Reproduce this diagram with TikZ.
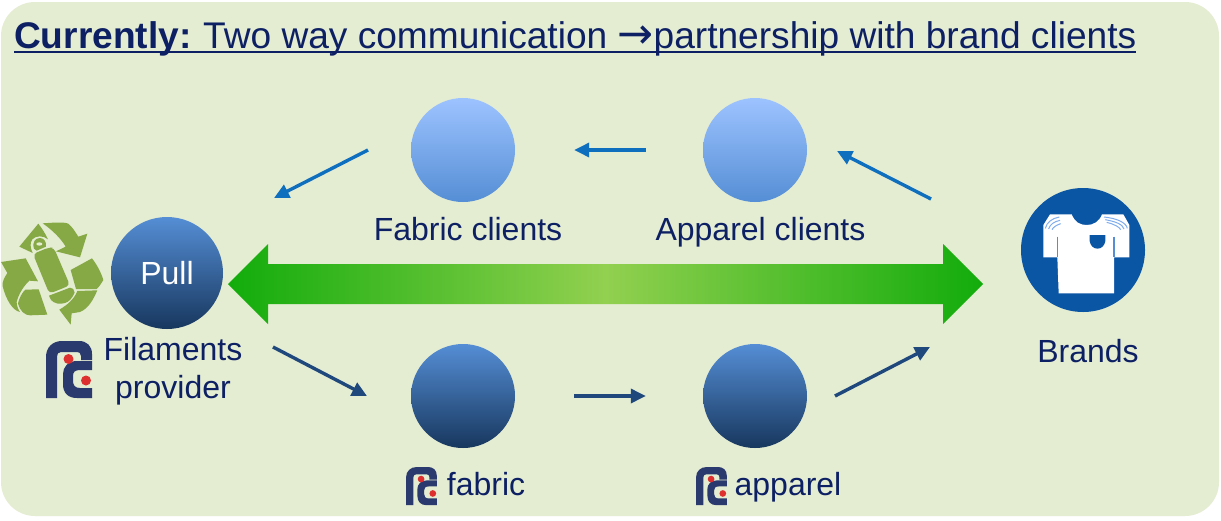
\documentclass[tikz,border=0pt]{standalone}
\usepackage{fontspec}
\setmainfont{Liberation Sans}
\newfontfamily\arrowfont{DejaVu Sans}
\usetikzlibrary{arrows.meta}
\definecolor{panelbg}{HTML}{E4ECD2}
\definecolor{navytxt}{HTML}{0D2063}
\definecolor{lightblue}{HTML}{9DC3FF}
\definecolor{midblue}{HTML}{558ED5}
\definecolor{deepblue}{HTML}{17375E}
\definecolor{arrowblue}{HTML}{0F6FBF}
\definecolor{arrowdark}{HTML}{1F497D}
\definecolor{brandblue}{HTML}{0B55A5}
\definecolor{greenend}{HTML}{12AC0C}
\definecolor{greenmid}{HTML}{92D050}
\definecolor{recyc}{HTML}{86A845}
\definecolor{logoblue}{HTML}{2B3A6E}
\definecolor{logored}{HTML}{DF3030}
\tikzset{
  x=1pt,y=-1pt,
  lbl/.style={text=navytxt,font=\fontsize{32}{37}\selectfont,inner sep=0pt},
  topball/.style={circle,inner sep=0pt,minimum size=104pt,top color=lightblue,bottom color=midblue,draw=none},
  lowball/.style={circle,inner sep=0pt,minimum size=104pt,top color=midblue,bottom color=deepblue,draw=none},
  upflow/.style={draw=arrowblue,line width=3.4pt,-{Triangle[length=15pt,width=14pt]}},
  lowflow/.style={draw=arrowdark,line width=3.4pt,-{Triangle[length=15pt,width=14pt]}},
  recfill/.style={fill=recyc,draw=none},
}
\newcommand{\pclogo}[3]{% x, y, scale (1 = 46 px wide)
  \begin{scope}[shift={(#1,#2)},scale=#3]
    \fill[logoblue] (0,57) -- (0,16) .. controls (0,6) and (7,0) .. (16,0) -- (33,0)
      .. controls (41,0) and (46,5) .. (46,13) -- (46,19) -- (35,19) -- (35,15)
      .. controls (35,12) and (33,11) .. (31,11) -- (15,11)
      .. controls (12,11) and (11,13) .. (11,16) -- (11,57) -- cycle;
    \fill[logoblue] (46,20) -- (31,20) .. controls (22,20) and (17,26) .. (17,33) -- (17,43)
      .. controls (17,52) and (22,57) .. (31,57) -- (46,57) -- (46,47) -- (34,47)
      .. controls (29,47) and (27,44) .. (27,40) -- (27,35)
      .. controls (27,31) and (29,29) .. (34,29) -- (46,29) -- cycle;
    \fill[logored] (22.5,18) circle[radius=5];
    \fill[logored] (40,39.5) circle[radius=5];
  \end{scope}}
\begin{document}
\begin{tikzpicture}
\useasboundingbox (0,0) rectangle (1221,520);
\fill[white] (0,0) rectangle (1221,520);
\fill[panelbg,rounded corners=34pt] (1,2) rectangle (1219,516);

% title
\node[anchor=base west,inner sep=0pt,text=navytxt,font=\fontsize{37.1}{42}\selectfont] (title) at (14,48)
  {\textbf{Currently:}\kern-2pt{} Two way communication {\arrowfont\fontsize{43}{42}\selectfont →}partnership with brand clients};
\draw[navytxt,line width=2.4pt] ([yshift=-4pt]title.base west) -- ([yshift=-4pt]title.base east);

% big arrow
\shade[left color=greenend,right color=greenend,middle color=greenmid]
  (228,284) -- (268,244) -- (268,264) -- (943,264) -- (943,244) -- (983,284)
  -- (943,324) -- (943,304) -- (268,304) -- (268,324) -- cycle;

% recycle icon
\begin{scope}[shift={(0,218)},scale=0.3333]
  \fill[recfill] (128,16) .. controls (160,14) and (190,11) .. (205,17) .. controls (218,28) and (226,42) .. (235,56)
    -- (262,47) -- (240,118) -- (168,100) -- (197,86) .. controls (185,65) and (160,38) .. cycle;
  \fill[recfill] (58,86) -- (115,17) .. controls (125,30) and (137,48) .. (144,64)
    .. controls (130,52) and (108,52) .. (97,64) .. controls (89,74) and (91,90) .. (98,105) -- cycle;
  \fill[recfill] (3,132) -- (77,121) -- (114,190) -- (88,188) .. controls (70,205) and (55,230) .. (50,252)
    .. controls (50,262) and (54,274) .. (60,282) .. controls (38,278) and (18,245) .. (8,205)
    .. controls (6,190) and (14,178) .. (22,165) -- cycle;
  \fill[recfill] (54,256) .. controls (58,240) and (66,224) .. (76,215) -- (116,214) -- (142,290)
    -- (90,292) .. controls (75,292) and (60,280) .. cycle;
  \fill[recfill] (212,156) -- (276,121) .. controls (291,140) and (304,165) .. (310,186)
    .. controls (304,196) and (298,206) .. (290,213) .. controls (270,213) and (250,214) .. (228,213) -- cycle;
  \fill[recfill] (232,219) -- (292,217) .. controls (280,245) and (265,272) .. (240,282) -- (215,286)
    -- (212,320) -- (178,275) .. controls (200,262) and (222,245) .. cycle;
  % bottle
  \fill[recfill,rounded corners=4pt] (99,108) -- (147,88) -- (162,90) -- (210,202) -- (148,227) -- cycle;
  \fill[recfill] (147,233) -- (210,209) .. controls (217,208) and (224,215) .. (224,224)
    .. controls (217,240) and (207,252) .. (195,255) .. controls (180,260) and (163,257) .. (153,246) -- cycle;
  \fill[recfill] (102,92) .. controls (96,72) and (106,60) .. (120,60) .. controls (132,60) and (140,72) .. (138,86) -- (110,98) -- cycle;
  \fill[panelbg] (118,78) ellipse[x radius=9,y radius=5];
\end{scope}

% balls
\node[lowball,minimum size=112pt,text=white,font=\fontsize{32}{37}\selectfont] (pull) at (167,273) {Pull};
\node[topball] (fabT) at (463,150) {};
\node[topball] (appT) at (755,150) {};
\node[lowball] (fabL) at (463,396) {};
\node[lowball] (appL) at (755,396) {};
\node[circle,fill=brandblue,inner sep=0pt,minimum size=124pt] (brand) at (1083,250) {};

% shirt
\begin{scope}[shift={(1040,205)},scale=0.3333]
  \fill[white] (30,28) -- (95,28) .. controls (105,52) and (120,60) .. (140,60)
    .. controls (160,60) and (178,50) .. (186,28) -- (250,28) -- (268,60) -- (268,157) -- (222,157)
    -- (222,265) -- (56,265) -- (52,157) -- (10,157) -- (10,60) -- cycle;
  \fill[brandblue] (149,90) -- (196,90) -- (196,108) .. controls (194,122) and (184,131) .. (173,131)
    .. controls (160,131) and (151,122) .. (149,108) -- cycle;
  \draw[midblue,line width=1.1pt] (52,95) -- (52,157) (222,95) -- (222,157);
  \draw[lightblue!80!brandblue,line width=1pt] (16,70) .. controls (20,52) and (36,40) .. (58,36)
     (26,72) .. controls (30,58) and (42,50) .. (60,46)
     (36,74) .. controls (40,66) and (50,60) .. (62,56)
     (262,70) .. controls (258,52) and (230,40) .. (192,36)
     (252,72) .. controls (248,58) and (228,50) .. (196,44)
     (242,74) .. controls (238,66) and (224,58) .. (200,52);
\end{scope}

% labels
\node[lbl,anchor=base] (fabTlbl) at (468,240) {Fabric clients};
\node[lbl,anchor=base] (appTlbl) at (760.5,240) {Apparel clients};
\node[lbl,align=center,anchor=base] (fil1) at (173,360) {Filaments};
\node[lbl,align=center,anchor=base] (fil2) at (173,398) {provider};
\node[lbl,anchor=base] (fabLlbl) at (486,495) {fabric};
\node[lbl,anchor=base] (appLlbl) at (788,495) {apparel};
\node[lbl,anchor=base] (brandlbl) at (1088,362) {Brands};

% logos
\pclogo{46}{341}{1}
\pclogo{406}{467}{0.67}
\pclogo{696}{467}{0.67}

% flow arrows
\coordinate (a1s) at (368,150); \coordinate (a1e) at (274,198);
\coordinate (a3s) at (931,199); \coordinate (a3e) at (837,151);
\coordinate (b1s) at (273,347); \coordinate (b1e) at (367,396);
\coordinate (b3s) at (835,396); \coordinate (b3e) at (930,347);
\draw[upflow] (a1s) -- (a1e);
\draw[upflow,shorten <=57pt,shorten >=59pt] (appT) -- (fabT);
\draw[upflow] (a3s) -- (a3e);
\draw[lowflow] (b1s) -- (b1e);
\draw[lowflow,shorten <=59pt,shorten >=57pt] (fabL) -- (appL);
\draw[lowflow] (b3s) -- (b3e);
\end{tikzpicture}
\end{document}
